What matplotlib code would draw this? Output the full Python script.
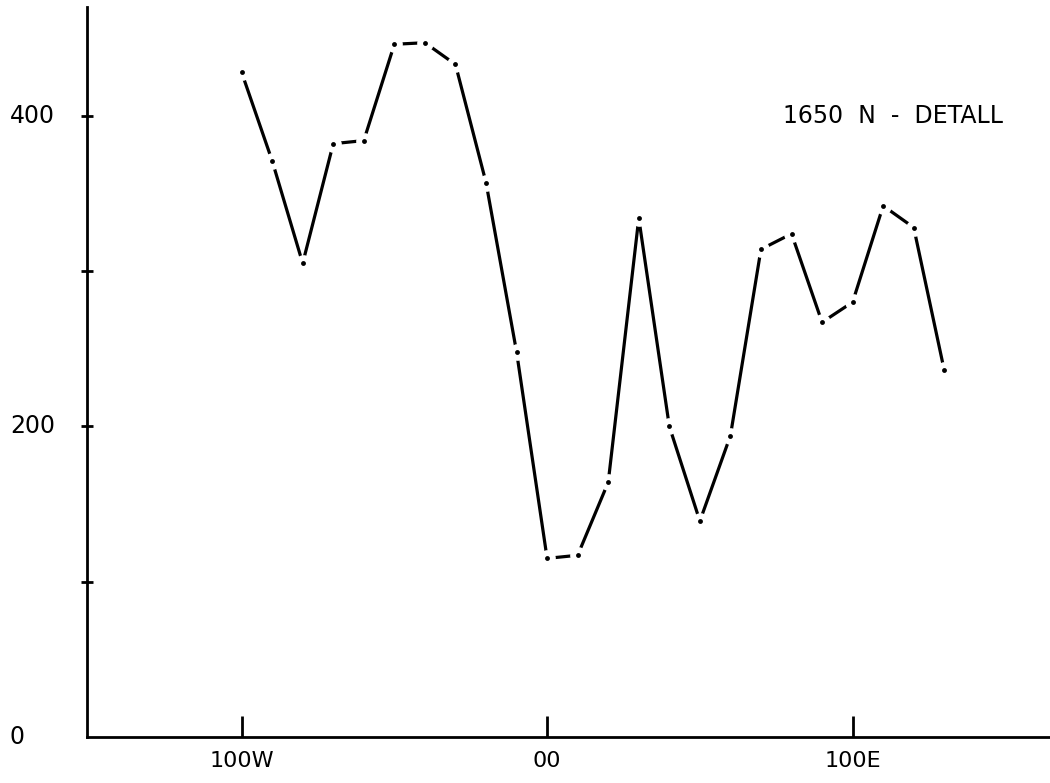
import matplotlib
matplotlib.use("Agg")
import matplotlib.pyplot as plt
import matplotlib.transforms as mtransforms

# longitude offsets (W negative, E positive) and measured values
lon = [-100, -90, -80, -70, -60, -50, -40, -30, -20, -10,
       0, 10, 20, 30, 40, 50, 60, 70, 80, 90, 100, 110, 120, 130]
value = [428, 371, 305, 382, 384, 446, 447, 433, 357, 248,
         115, 117, 164, 334, 200, 139, 194, 314, 324, 267, 280, 342, 328, 236]

x_ticks = [-100, 0, 100]
x_labels = ["100W", "00", "100E"]
y_label_vals = [0, 200, 400]
y_labels = ["0", "200", "400"]
y_ticks = [100, 200, 300, 400]

plt.rcParams['font.family'] = ['DejaVu Sans']

fig = plt.figure(figsize=(10.5, 7.83), dpi=100)
ax = fig.add_axes([87 / 1050, 46 / 783, 963 / 1050, 730 / 783])
ax.set_xlim(-150.6, 164.6)
ax.set_ylim(0, 470)

# line with small breaks at every vertex, dot at each reading
ax.plot(lon, value, color='black', lw=2.3, solid_capstyle='butt', zorder=2)
ax.plot(lon, value, 'o', color='white', ms=12, mew=0, zorder=3)
ax.plot(lon, value, 'o', color='black', ms=3.5, mew=0, zorder=4)

for s in ['top', 'right']:
    ax.spines[s].set_visible(False)
for s in ['left', 'bottom']:
    ax.spines[s].set_linewidth(2.0)

ax.set_xticks(x_ticks)
ax.set_xticklabels(x_labels, fontsize=16)
ax.tick_params(axis='x', direction='in', length=15, width=2.0, pad=10)

ax.set_yticks(y_ticks)
ax.set_yticklabels([])
ax.tick_params(axis='y', direction='inout', length=8, width=2.0)

trans = mtransforms.blended_transform_factory(ax.transAxes, ax.transData)
for v, lab in zip(y_label_vals, y_labels):
    ax.text(-0.080, v, lab, transform=trans, ha='left', va='center',
            fontsize=17, clip_on=False)

# plot title in the upper right, letters spread out
ax.text((783 - 87) / 963, 400, "1650  N  -  DETALL", transform=trans,
        ha='left', va='center', fontsize=17)

fig.savefig("out.png", dpi=100)
